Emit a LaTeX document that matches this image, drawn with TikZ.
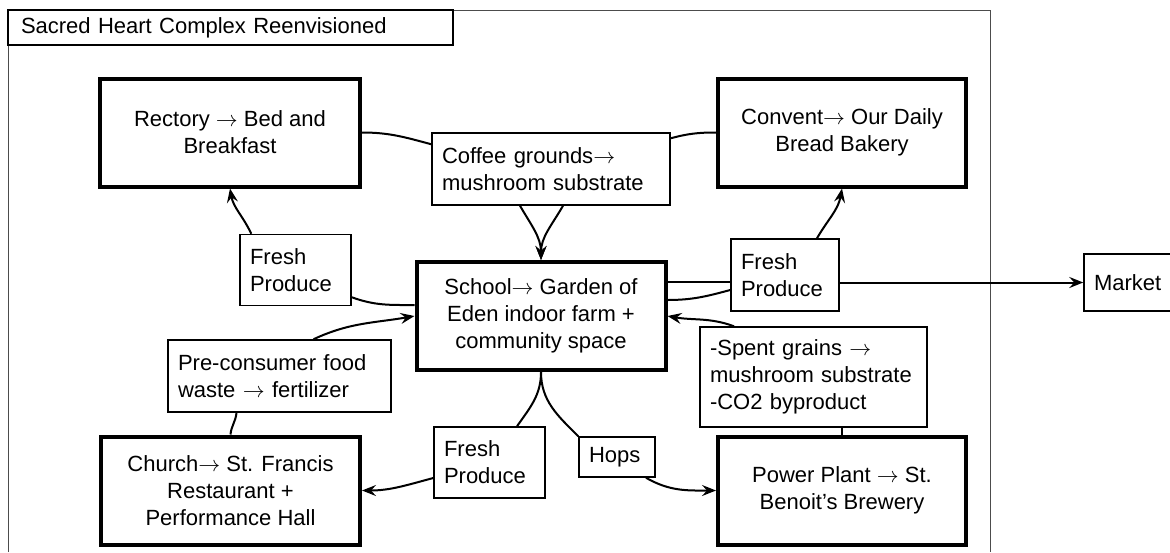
\documentclass[tikz,border=0pt]{standalone}
\usepackage{fontspec}
\setmainfont{Liberation Sans}
\usetikzlibrary{arrows.meta}
\newcommand{\flowto}{$\rightarrow$}

\begin{document}
\begin{tikzpicture}[x=0.5pt,y=0.5pt,>={Stealth[length=7pt,width=5.5pt,inset=2.5pt]},
	font=\fontsize{11}{13.5}\selectfont,
	site node/.style={draw,line width=2pt,align=center,minimum height=54pt},
	flow node/.style={draw,line width=0.75pt,align=left,inner xsep=5pt,inner ysep=2pt}]
	\useasboundingbox (0,0) rectangle (1170,-552);
	\draw[gray!60!black,line width=0.5pt] (8,-552) -- (8,-10) -- (990,-10) -- (990,-552);
	\node[flow node,line width=0.6pt,inner xsep=6.5pt,text width=209.5pt,minimum height=17.5pt] (title) at (230.5,-27.5) {Sacred Heart Complex Reenvisioned};
	
	\node[site node,minimum width=130pt] (rectory) at (230,-132.5) {Rectory \flowto{} Bed and\\Breakfast};
	\node[site node,minimum width=124pt] (convent) at (842,-132.5) {Convent\flowto{} Our Daily\\Bread Bakery};
	\node[flow node,text width=109pt,minimum height=36pt] (coffee) at (551,-169) {Coffee grounds\flowto\\mushroom substrate};
	\node[flow node,text width=45.5pt,minimum height=35.5pt] (freshL) at (295.5,-270) {Fresh\\Produce};
	\node[site node,minimum width=124.5pt] (school) at (541,-316) {School\flowto{} Garden of\\Eden indoor farm +\\community space};
	\node[flow node,text width=44pt,minimum height=36pt] (freshR) at (785,-275) {Fresh\\Produce};
	\node[flow node,text width=36pt,minimum height=28.5pt] (market) at (1130,-282.5) {Market};
	\node[flow node,text width=101.5pt,minimum height=36pt] (waste) at (279.5,-376) {Pre-consumer food\\waste \flowto{} fertilizer};
	\node[site node,minimum width=129.5pt] (church) at (230.5,-490.5) {Church\flowto{} St. Francis\\Restaurant +\\Performance Hall};
	\node[flow node,text width=45.5pt,minimum height=35.5pt] (freshB) at (489.5,-462.5) {Fresh\\Produce};
	\node[flow node,text width=28pt,minimum height=20pt] (hops) at (617,-457) {Hops};
	\node[flow node,text width=103.5pt,minimum height=50pt] (grains) at (813.5,-377) {-Spent grains \flowto\\mushroom substrate\\-CO2 byproduct};
	\node[site node,minimum width=124pt] (brewery) at (842,-490.5) {Power Plant \flowto{} St.\\Benoit’s Brewery};
	
	\path[every edge/.style={draw,line width=1pt}]
	(rectory.east) edge[out=0,in=165] ([yshift=-6pt]coffee.north west)
	(convent.west) edge[out=180,in=15] ([yshift=-3pt]coffee.north east)
	([xshift=-15.5pt]coffee.south) edge[->,out=-60,in=90] (school.north)
	([xshift=6pt]coffee.south) edge[->,out=-120,in=90] (school.north)
	([xshift=6pt]freshL.north west) edge[->,out=115,in=-80] (rectory.south)
	([yshift=4.5pt]freshL.south east) edge[out=-20,in=180] ([yshift=5.5pt]school.west)
	([xshift=17pt]waste.north) edge[->,out=25,in=190] (school.west)
	(church.north) edge[out=85,in=-95] ([xshift=-21.5pt]waste.south)
	(school.south) edge[out=-90,in=55] ([xshift=13.75pt]freshB.north)
	(school.south) edge[out=-90,in=135] (hops.north west)
	([yshift=-7.75pt]freshB.west) edge[->,out=195,in=0] (church.east)
	([xshift=14.5pt]hops.south) edge[->,out=-30,in=180] (brewery.west)
	(brewery.north) edge (brewery.north |- grains.south)
	([xshift=-39.75pt]grains.north) edge[->,out=160,in=-10] (school.east)
	([yshift=17pt]school.east) edge ([yshift=17pt]school.east -| freshR.west)
	([yshift=8pt]school.east) edge[out=0,in=195] ([yshift=-7.5pt]freshR.west)
	(market.west -| freshR.east) edge[->] (market.west)
	([xshift=16pt]freshR.north) edge[->,out=60,in=-100] (convent.south);
\end{tikzpicture}
\end{document}
